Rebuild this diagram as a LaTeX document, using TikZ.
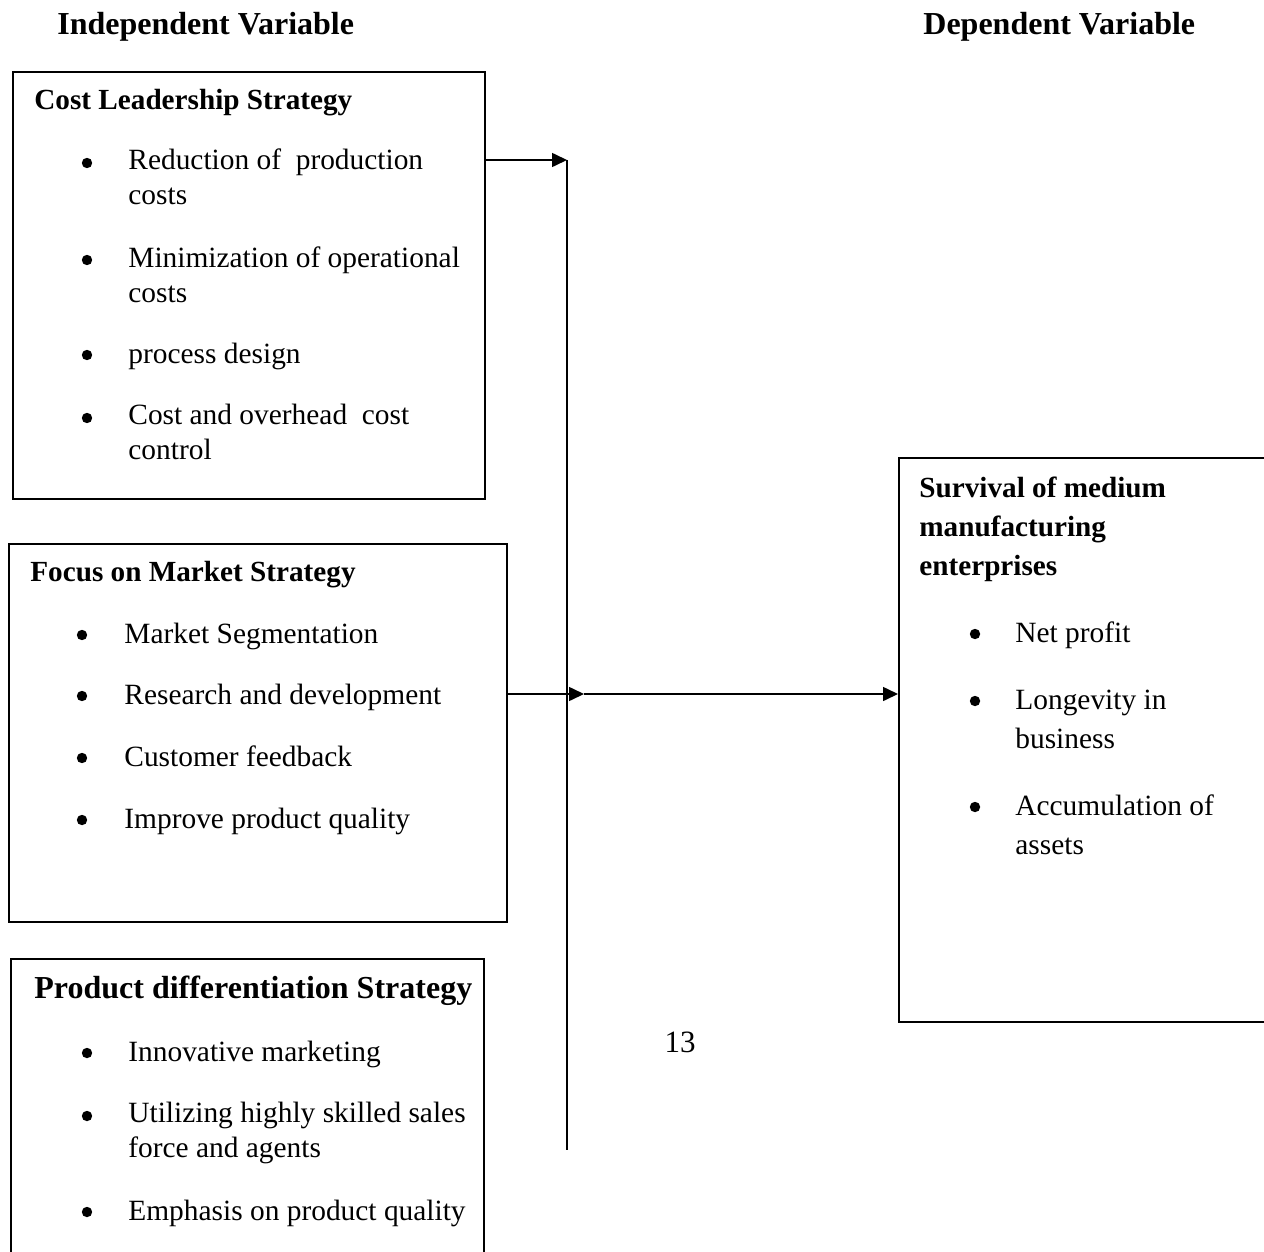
\documentclass[tikz,border=0pt]{standalone}
\usepackage{fontspec}
\setmainfont{Liberation Serif}
\usepackage{tikz}
\usetikzlibrary{arrows.meta,positioning}

\tikzset{
  box/.style={draw, line width=0.8pt, anchor=north west, inner sep=0pt},
  head/.style={font=\fontsize{16}{18}\selectfont\bfseries, inner sep=0pt, anchor=base west},
  ttl/.style={font=\fontsize{14.6}{19.5}\selectfont\bfseries, inner sep=0pt, anchor=base west, align=left},
  itm/.style={font=\fontsize{14.7}{17.5}\selectfont, inner sep=0pt, anchor=base west, align=left},
  dot/.style={circle, fill, inner sep=0pt, minimum size=5.2pt},
  arr/.style={line width=0.8pt, -{Triangle[length=7.5pt,width=7pt]}},
}

\begin{document}
\begin{tikzpicture}[x=0.5pt,y=-0.5pt]
    \clip (0,0) rectangle (1264,1252);
    \fill[white] (0,0) rectangle (1264,1252);

    % Headings
    \node[head] (indep) at (57,35) {Independent Variable};
    \node[head] (dep) at (923,35) {Dependent Variable};

    % Cost leadership (multi-line nodes sit on their last baseline)
    \node[box, minimum width=236pt, minimum height=213.5pt] (cost) at (12,71) {};
    \node[ttl] (costT) at (34,110) {Cost Leadership Strategy};
    \node[dot] (cd1) at (87,163) {};
    \node[itm] (ci1) at (128,205) {Reduction of~ production\\costs};
    \node[dot] (cd2) at (87,260) {};
    \node[itm] (ci2) at (128,302) {Minimization of operational\\costs};
    \node[dot] (cd3) at (87,355) {};
    \node[itm] (ci3) at (128,363) {process design};
    \node[dot] (cd4) at (87,418) {};
    \node[itm] (ci4) at (128,459) {Cost and overhead~ cost\\control};

    % Focus on market
    \node[box, minimum width=249pt, minimum height=189pt] (focus) at (8,543) {};
    \node[ttl] (focusT) at (30,581) {Focus on Market Strategy};
    \node[dot] (fd1) at (82,635) {};
    \node[itm] (fi1) at (124,643) {Market Segmentation};
    \node[dot] (fd2) at (82,696) {};
    \node[itm] (fi2) at (124,704) {Research and development};
    \node[dot] (fd3) at (82,758) {};
    \node[itm] (fi3) at (124,766) {Customer feedback};
    \node[dot] (fd4) at (82,820) {};
    \node[itm] (fi4) at (124,828) {Improve product quality};

    % Product differentiation
    \node[box, minimum width=236.5pt, minimum height=200pt] (product) at (10,958) {};
    \node[ttl, font=\fontsize{16}{19}\selectfont\bfseries] (productT) at (34,998) {Product differentiation Strategy};
    \node[dot] (pd1) at (87,1053) {};
    \node[itm] (pi1) at (128,1061) {Innovative marketing};
    \node[dot] (pd2) at (87,1116) {};
    \node[itm] (pi2) at (128,1157) {Utilizing highly skilled sales\\force and agents};
    \node[dot] (pd3) at (87,1212) {};
    \node[itm] (pi3) at (128,1220) {Emphasis on product quality};

    % Survival
    \node[box, minimum width=200pt, minimum height=282pt] (survival) at (898,457) {};
    \node[ttl] (survT) at (919,575) {Survival of medium\\manufacturing\\enterprises};
    \node[dot] (sd1) at (975,634) {};
    \node[itm] (si1) at (1015,642) {Net profit};
    \node[dot] (sd2) at (975,701) {};
    \node[itm, font=\fontsize{14.7}{19.5}\selectfont] (si2) at (1015,748) {Longevity in\\business};
    \node[dot] (sd3) at (975,807) {};
    \node[itm, font=\fontsize{14.7}{19.5}\selectfont] (si3) at (1015,854) {Accumulation of\\assets};

    % page number
    \node[itm, anchor=base, font=\fontsize{15.5}{18}\selectfont] (pgno) at (680,1052) {13};

    % Connectors
    \coordinate (bustop) at (567,160);
    \coordinate (busbot) at (567,1150);
    \coordinate (hub) at (584,694);
    \draw[line width=0.8pt] (bustop) -- (busbot);
    \draw[arr] (cost.east |- bustop) -- (bustop);
    \draw[arr] (focus.east |- hub) -- (hub);
    \draw[arr] (hub) -- (survival.west |- hub);
\end{tikzpicture}
\end{document}
